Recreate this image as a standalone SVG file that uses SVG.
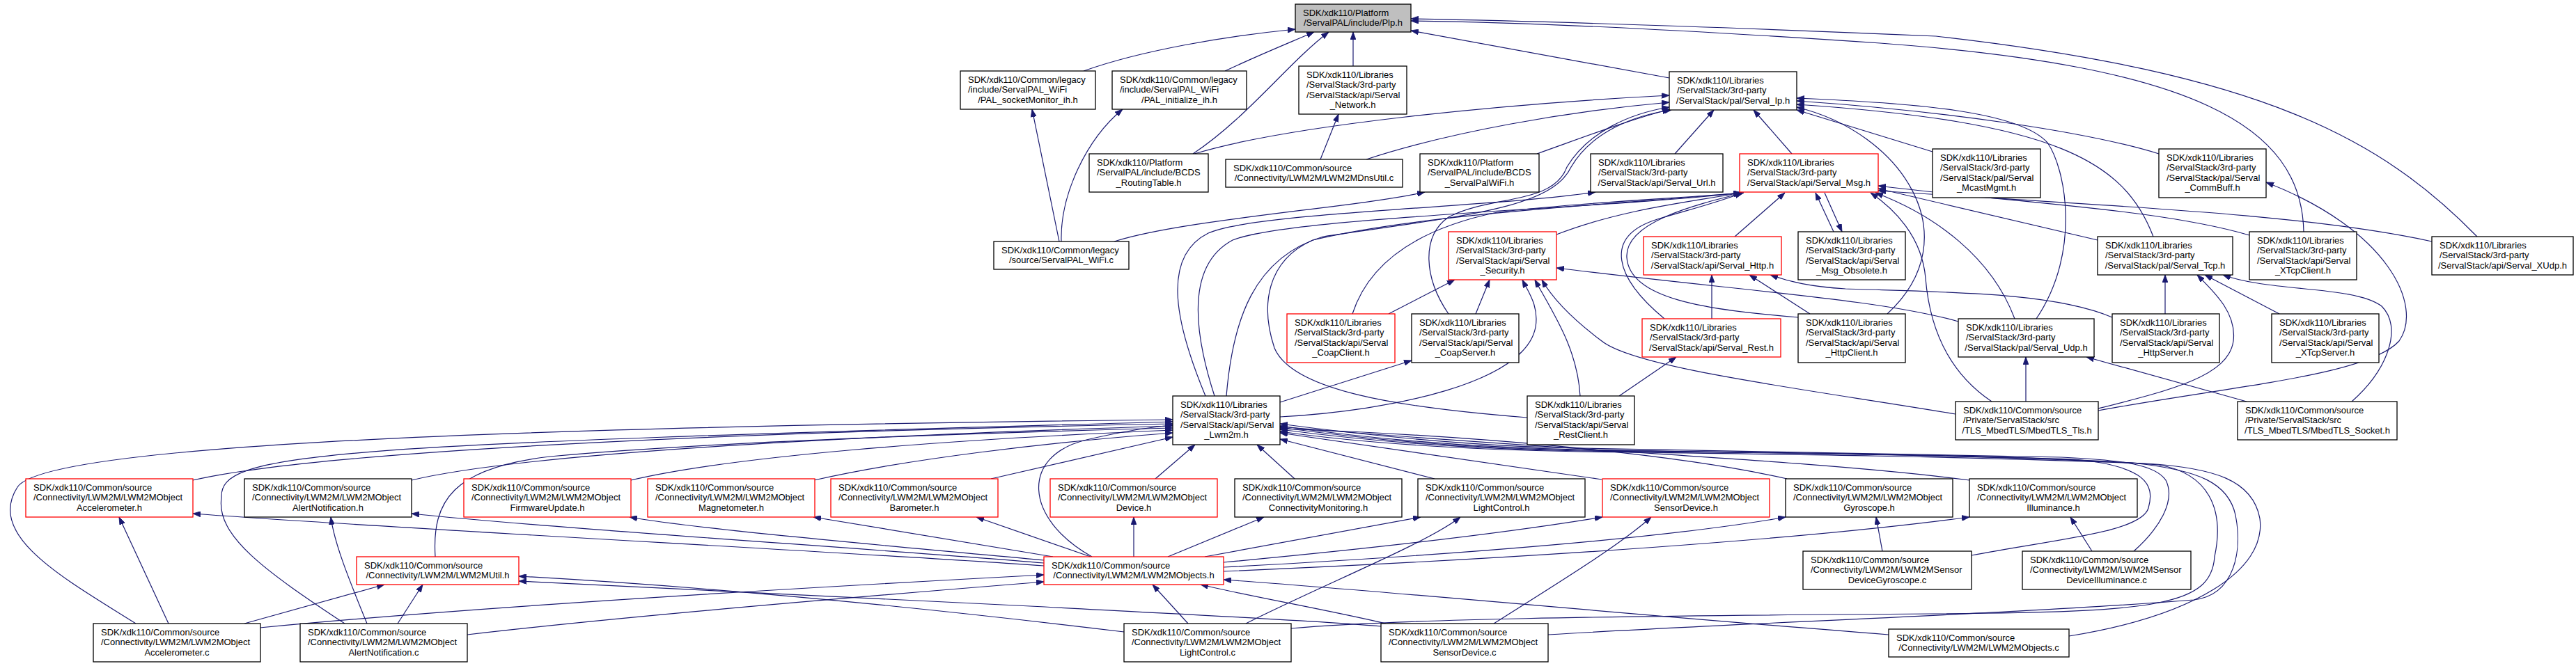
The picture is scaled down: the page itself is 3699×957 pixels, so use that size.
<svg xmlns="http://www.w3.org/2000/svg" width="3699" height="957" viewBox="0 0 3699 957">
<defs>
<style>
.n rect{fill:#fff;stroke:#000;stroke-width:1.3}
.n.r rect{stroke:#f00}
.n.g rect{fill:#bfbfbf}
.n text{font-family:"Liberation Sans",Arial,sans-serif;font-size:13px;fill:#000}
.n text.c{text-anchor:middle}
#edges path{fill:none;stroke:#191970;stroke-width:1.2;marker-end:url(#arr)}
</style>
<marker id="arr" viewBox="0 0 11 8" refX="11" refY="4" markerWidth="11" markerHeight="8" markerUnits="userSpaceOnUse" orient="auto"><path d="M0,0L11,4L0,8z" fill="#191970" stroke="#191970" stroke-width="0.8"/></marker>
</defs>
<rect width="3699" height="957" fill="#fff"/>
<g id="edges">
<path d="M1556,102 C1640,72 1760,52 1860,42"/>
<path d="M1759,102 C1810,78 1850,62 1887,46"/>
<path d="M1713,221 C1790,170 1850,90 1908,46"/>
<path d="M1943,95 L1943,46"/>
<path d="M2397,112 L2026,44"/>
<path d="M3308,333 C3305,180 3150,95 2700,62 C2450,45 2200,32 2026,30"/>
<path d="M3557,340 C3420,200 3250,105 2780,52 C2450,38 2200,30 2026,27"/>
<path d="M1715,221 C1850,180 2150,150 2397,137"/>
<path d="M1962,229 C2080,190 2250,160 2397,147"/>
<path d="M1896,229 L1922,164"/>
<path d="M2207,221 C2280,195 2340,172 2398,157"/>
<path d="M2405,221 L2461,158"/>
<path d="M2573,221 L2518,158"/>
<path d="M2775,218 L2580,158"/>
<path d="M3100,221 C3000,190 2800,160 2580,145"/>
<path d="M3092,340 C3050,230 2950,175 2580,150"/>
<path d="M2924,458 C2990,360 2965,240 2940,205 C2900,160 2750,148 2580,141"/>
<path d="M2710,451 C2830,340 2730,190 2580,154"/>
<path d="M2080,451 C2045,400 2040,340 2080,312 C2140,280 2230,295 2250,240 C2280,190 2340,163 2397,154"/>
<path d="M1761,569 C1770,460 1800,370 1900,340 C2100,310 2228,300 2256,240 C2285,190 2345,166 2400,158"/>
<path d="M2235,337 C2330,300 2430,290 2500,277"/>
<path d="M2491,340 L2563,277"/>
<path d="M2633,333 L2607,277"/>
<path d="M2620,277 L2645,333"/>
<path d="M2390,458 C2320,400 2300,340 2380,315 C2430,300 2470,290 2502,277"/>
<path d="M2582,456 C2450,445 2340,430 2336,370 C2333,320 2430,295 2504,277"/>
<path d="M1942,451 C1965,380 2030,330 2150,305 C2300,288 2420,285 2500,277"/>
<path d="M2193,600 C2000,585 1855,560 1830,500 C1810,440 1818,375 1885,345 C2050,305 2350,292 2500,277"/>
<path d="M2893,458 C2860,370 2780,310 2693,277"/>
<path d="M2860,577 C2790,530 2770,460 2765,400 C2760,340 2720,300 2686,277"/>
<path d="M3012,345 L2697,271"/>
<path d="M3230,338 C3100,300 2900,292 2697,267"/>
<path d="M3492,347 C3300,305 3000,295 2697,274"/>
<path d="M2458,458 L2458,395"/>
<path d="M2599,451 L2512,395"/>
<path d="M3033,456 C2950,420 2800,420 2650,415 C2600,412 2570,405 2542,395"/>
<path d="M1994,451 L2089,402"/>
<path d="M2119,451 L2139,402"/>
<path d="M1838,599 C2000,590 2190,550 2205,470 C2210,440 2195,420 2186,402"/>
<path d="M2269,569 C2265,500 2230,450 2204,402"/>
<path d="M2808,595 C2600,560 2350,530 2300,490 C2260,460 2230,430 2214,402"/>
<path d="M2812,462 C2700,430 2500,418 2235,385"/>
<path d="M3109,451 L3109,395"/>
<path d="M3273,451 L3166,395"/>
<path d="M3013,587 C3120,560 3200,540 3207,490 C3212,450 3180,420 3155,395"/>
<path d="M3377,577 C3430,530 3450,470 3420,440 C3380,410 3260,420 3192,395"/>
<path d="M2909,577 L2909,513"/>
<path d="M3226,577 L2996,513"/>
<path d="M3013,590 C3200,555 3400,540 3445,490 C3480,440 3430,330 3254,262"/>
<path d="M195,896 C90,830 -20,770 25,700 C60,645 600,615 1684,603"/>
<path d="M495,896 C380,820 310,770 318,715 C315,650 450,640 1684,606"/>
<path d="M277,690 C450,650 1000,622 1684,609"/>
<path d="M591,690 C750,652 1200,627 1684,612"/>
<path d="M625,800 C620,720 650,672 790,656 C1000,636 1400,622 1684,615"/>
<path d="M906,690 C1050,656 1350,632 1684,618"/>
<path d="M1169,690 C1300,660 1500,636 1684,622"/>
<path d="M1423,688 L1684,628"/>
<path d="M1659,688 L1716,639"/>
<path d="M1568,800 C1470,745 1465,655 1560,632 C1620,618 1660,613 1684,611"/>
<path d="M1859,688 L1805,639"/>
<path d="M2060,688 L1838,631"/>
<path d="M2300,689 L1838,622"/>
<path d="M2566,688 C2400,650 2100,625 1838,616"/>
<path d="M2828,690 C2600,660 2200,645 1838,613"/>
<path d="M2831,798 C2950,775 3075,765 3085,730 C3095,695 3080,670 2980,660 C2700,652 2450,650 2270,646 C2100,643 1950,628 1838,612"/>
<path d="M3064,792 C3100,760 3125,720 3110,690 C3095,668 3050,661 2960,657 C2700,650 2450,648 2270,644 C2100,641 1950,624 1838,609"/>
<path d="M1854,903 C2000,890 2300,885 2775,882 C3100,880 3175,870 3180,800 C3195,730 3170,680 3100,668 C2900,652 2500,650 2270,647 C2100,644 1950,630 1838,614"/>
<path d="M2223,912 C2500,895 2900,882 3150,862 C3210,855 3220,790 3210,740 C3200,695 3160,675 3060,665 C2800,652 2500,650 2270,648 C2100,645 1950,632 1838,617"/>
<path d="M2971,914 C3150,885 3255,820 3245,745 C3235,690 3180,672 3080,666 C2800,655 2500,652 2270,649 C2100,646 1950,636 1838,620"/>
<path d="M1499,813 C1200,792 600,762 277,738"/>
<path d="M1499,809 C1250,788 800,760 591,738"/>
<path d="M1499,805 C1250,782 1000,760 904,743"/>
<path d="M1512,800 L1168,743"/>
<path d="M1566,800 L1402,743"/>
<path d="M1628,800 L1628,743"/>
<path d="M1677,800 L1815,743"/>
<path d="M1730,800 L2040,743"/>
<path d="M1757,808 C1950,790 2150,768 2301,743"/>
<path d="M1757,815 C2100,797 2400,772 2564,743"/>
<path d="M1757,821 C2200,802 2600,774 2828,743"/>
<path d="M373,902 C700,870 1200,842 1499,826"/>
<path d="M671,912 C900,885 1300,852 1499,836"/>
<path d="M1706,896 L1655,840"/>
<path d="M1990,896 C1900,875 1800,858 1724,840"/>
<path d="M2712,912 C2300,880 2000,850 1757,833"/>
<path d="M351,896 L552,840"/>
<path d="M571,896 L607,840"/>
<path d="M1614,908 C1300,870 1000,842 745,828"/>
<path d="M1983,900 C1900,892 1700,883 1500,872 C1200,858 950,845 745,835"/>
<path d="M242,896 L171,743"/>
<path d="M527,896 C500,830 480,780 475,743"/>
<path d="M1789,896 C1900,840 2050,780 2097,743"/>
<path d="M2145,896 C2250,830 2330,780 2371,743"/>
<path d="M2703,792 L2694,743"/>
<path d="M3004,792 L2973,743"/>
<path d="M1521,347 L1482,157"/>
<path d="M1524,347 C1522,280 1560,200 1612,157"/>
<path d="M1600,347 C1700,315 1950,298 2046,276"/>
<path d="M1731,569 C1690,470 1665,370 1735,335 C1800,305 2150,298 2291,276"/>
<path d="M1744,569 C1712,470 1705,380 1770,345 C1850,312 2300,300 2500,277"/>
<path d="M1838,578 L2027,518"/>
<path d="M2325,569 L2407,513"/>
</g>
<g id="nodes">
<g id="plp" class="n g"><rect x="1860" y="6" width="166" height="40"/><text x="1871" y="22.5">SDK/xdk110/Platform</text><text class="c" x="1943" y="37">/ServalPAL/include/Plp.h</text></g>
<g id="sockmon" class="n"><rect x="1379" y="102" width="194" height="55"/><text x="1390" y="118.5">SDK/xdk110/Common/legacy</text><text x="1390" y="133">/include/ServalPAL_WiFi</text><text class="c" x="1476" y="147.5">/PAL_socketMonitor_ih.h</text></g>
<g id="init" class="n"><rect x="1597" y="102" width="193" height="55"/><text x="1608" y="118.5">SDK/xdk110/Common/legacy</text><text x="1608" y="133">/include/ServalPAL_WiFi</text><text class="c" x="1693.5" y="147.5">/PAL_initialize_ih.h</text></g>
<g id="network" class="n"><rect x="1865" y="95" width="155" height="69"/><text x="1876" y="111.5">SDK/xdk110/Libraries</text><text x="1876" y="126">/ServalStack/3rd-party</text><text x="1876" y="140.5">/ServalStack/api/Serval</text><text class="c" x="1942.5" y="155">_Network.h</text></g>
<g id="ip" class="n"><rect x="2397" y="103" width="183" height="55"/><text x="2408" y="119.5">SDK/xdk110/Libraries</text><text x="2408" y="134">/ServalStack/3rd-party</text><text class="c" x="2488.5" y="148.5">/ServalStack/pal/Serval_Ip.h</text></g>
<g id="routing" class="n"><rect x="1564" y="221" width="171" height="55"/><text x="1575" y="237.5">SDK/xdk110/Platform</text><text x="1575" y="252">/ServalPAL/include/BCDS</text><text class="c" x="1649.5" y="266.5">_RoutingTable.h</text></g>
<g id="dnsutil" class="n"><rect x="1760" y="229" width="254" height="40"/><text x="1771" y="245.5">SDK/xdk110/Common/source</text><text class="c" x="1887" y="260">/Connectivity/LWM2M/LWM2MDnsUtil.c</text></g>
<g id="palwifi_h" class="n"><rect x="2039" y="221" width="171" height="55"/><text x="2050" y="237.5">SDK/xdk110/Platform</text><text x="2050" y="252">/ServalPAL/include/BCDS</text><text class="c" x="2124.5" y="266.5">_ServalPalWiFi.h</text></g>
<g id="url" class="n"><rect x="2284" y="221" width="190" height="55"/><text x="2295" y="237.5">SDK/xdk110/Libraries</text><text x="2295" y="252">/ServalStack/3rd-party</text><text class="c" x="2379" y="266.5">/ServalStack/api/Serval_Url.h</text></g>
<g id="msg" class="n r"><rect x="2498" y="221" width="199" height="55"/><text x="2509" y="237.5">SDK/xdk110/Libraries</text><text x="2509" y="252">/ServalStack/3rd-party</text><text class="c" x="2597.5" y="266.5">/ServalStack/api/Serval_Msg.h</text></g>
<g id="mcast" class="n"><rect x="2775" y="214" width="155" height="70"/><text x="2786" y="230.5">SDK/xdk110/Libraries</text><text x="2786" y="245">/ServalStack/3rd-party</text><text x="2786" y="259.5">/ServalStack/pal/Serval</text><text class="c" x="2852.5" y="274">_McastMgmt.h</text></g>
<g id="commbuff" class="n"><rect x="3100" y="214" width="154" height="70"/><text x="3111" y="230.5">SDK/xdk110/Libraries</text><text x="3111" y="245">/ServalStack/3rd-party</text><text x="3111" y="259.5">/ServalStack/pal/Serval</text><text class="c" x="3177" y="274">_CommBuff.h</text></g>
<g id="palwifi_c" class="n"><rect x="1427" y="347" width="194" height="40"/><text x="1438" y="363.5">SDK/xdk110/Common/legacy</text><text class="c" x="1524" y="378">/source/ServalPAL_WiFi.c</text></g>
<g id="security" class="n r"><rect x="2080" y="333" width="155" height="69"/><text x="2091" y="349.5">SDK/xdk110/Libraries</text><text x="2091" y="364">/ServalStack/3rd-party</text><text x="2091" y="378.5">/ServalStack/api/Serval</text><text class="c" x="2157.5" y="393">_Security.h</text></g>
<g id="http" class="n r"><rect x="2360" y="340" width="198" height="55"/><text x="2371" y="356.5">SDK/xdk110/Libraries</text><text x="2371" y="371">/ServalStack/3rd-party</text><text class="c" x="2459" y="385.5">/ServalStack/api/Serval_Http.h</text></g>
<g id="obsolete" class="n"><rect x="2582" y="333" width="154" height="69"/><text x="2593" y="349.5">SDK/xdk110/Libraries</text><text x="2593" y="364">/ServalStack/3rd-party</text><text x="2593" y="378.5">/ServalStack/api/Serval</text><text class="c" x="2659" y="393">_Msg_Obsolete.h</text></g>
<g id="tcp" class="n"><rect x="3012" y="340" width="194" height="55"/><text x="3023" y="356.5">SDK/xdk110/Libraries</text><text x="3023" y="371">/ServalStack/3rd-party</text><text class="c" x="3109" y="385.5">/ServalStack/pal/Serval_Tcp.h</text></g>
<g id="xtcpclient" class="n"><rect x="3230" y="333" width="154" height="69"/><text x="3241" y="349.5">SDK/xdk110/Libraries</text><text x="3241" y="364">/ServalStack/3rd-party</text><text x="3241" y="378.5">/ServalStack/api/Serval</text><text class="c" x="3307" y="393">_XTcpClient.h</text></g>
<g id="xudp" class="n"><rect x="3492" y="340" width="203" height="55"/><text x="3503" y="356.5">SDK/xdk110/Libraries</text><text x="3503" y="371">/ServalStack/3rd-party</text><text class="c" x="3593.5" y="385.5">/ServalStack/api/Serval_XUdp.h</text></g>
<g id="coapclient" class="n r"><rect x="1848" y="451" width="155" height="70"/><text x="1859" y="467.5">SDK/xdk110/Libraries</text><text x="1859" y="482">/ServalStack/3rd-party</text><text x="1859" y="496.5">/ServalStack/api/Serval</text><text class="c" x="1925.5" y="511">_CoapClient.h</text></g>
<g id="coapserver" class="n"><rect x="2027" y="451" width="154" height="70"/><text x="2038" y="467.5">SDK/xdk110/Libraries</text><text x="2038" y="482">/ServalStack/3rd-party</text><text x="2038" y="496.5">/ServalStack/api/Serval</text><text class="c" x="2104" y="511">_CoapServer.h</text></g>
<g id="rest" class="n r"><rect x="2358" y="458" width="199" height="55"/><text x="2369" y="474.5">SDK/xdk110/Libraries</text><text x="2369" y="489">/ServalStack/3rd-party</text><text class="c" x="2457.5" y="503.5">/ServalStack/api/Serval_Rest.h</text></g>
<g id="httpclient" class="n"><rect x="2582" y="451" width="154" height="70"/><text x="2593" y="467.5">SDK/xdk110/Libraries</text><text x="2593" y="482">/ServalStack/3rd-party</text><text x="2593" y="496.5">/ServalStack/api/Serval</text><text class="c" x="2659" y="511">_HttpClient.h</text></g>
<g id="udp" class="n"><rect x="2812" y="458" width="195" height="55"/><text x="2823" y="474.5">SDK/xdk110/Libraries</text><text x="2823" y="489">/ServalStack/3rd-party</text><text class="c" x="2909.5" y="503.5">/ServalStack/pal/Serval_Udp.h</text></g>
<g id="httpserver" class="n"><rect x="3033" y="451" width="154" height="70"/><text x="3044" y="467.5">SDK/xdk110/Libraries</text><text x="3044" y="482">/ServalStack/3rd-party</text><text x="3044" y="496.5">/ServalStack/api/Serval</text><text class="c" x="3110" y="511">_HttpServer.h</text></g>
<g id="xtcpserver" class="n"><rect x="3262" y="451" width="154" height="70"/><text x="3273" y="467.5">SDK/xdk110/Libraries</text><text x="3273" y="482">/ServalStack/3rd-party</text><text x="3273" y="496.5">/ServalStack/api/Serval</text><text class="c" x="3339" y="511">_XTcpServer.h</text></g>
<g id="lwm2m" class="n"><rect x="1684" y="569" width="154" height="70"/><text x="1695" y="585.5">SDK/xdk110/Libraries</text><text x="1695" y="600">/ServalStack/3rd-party</text><text x="1695" y="614.5">/ServalStack/api/Serval</text><text class="c" x="1761" y="629">_Lwm2m.h</text></g>
<g id="restclient" class="n"><rect x="2193" y="569" width="154" height="70"/><text x="2204" y="585.5">SDK/xdk110/Libraries</text><text x="2204" y="600">/ServalStack/3rd-party</text><text x="2204" y="614.5">/ServalStack/api/Serval</text><text class="c" x="2270" y="629">_RestClient.h</text></g>
<g id="tls" class="n"><rect x="2808" y="577" width="205" height="55"/><text x="2819" y="593.5">SDK/xdk110/Common/source</text><text x="2819" y="608">/Private/ServalStack/src</text><text class="c" x="2910.5" y="622.5">/TLS_MbedTLS/MbedTLS_Tls.h</text></g>
<g id="socket" class="n"><rect x="3213" y="577" width="229" height="55"/><text x="3224" y="593.5">SDK/xdk110/Common/source</text><text x="3224" y="608">/Private/ServalStack/src</text><text class="c" x="3327.5" y="622.5">/TLS_MbedTLS/MbedTLS_Socket.h</text></g>
<g id="accel_h" class="n r"><rect x="37" y="688" width="240" height="55"/><text x="48" y="704.5">SDK/xdk110/Common/source</text><text x="48" y="719">/Connectivity/LWM2M/LWM2MObject</text><text class="c" x="157" y="733.5">Accelerometer.h</text></g>
<g id="alert_h" class="n"><rect x="351" y="688" width="240" height="55"/><text x="362" y="704.5">SDK/xdk110/Common/source</text><text x="362" y="719">/Connectivity/LWM2M/LWM2MObject</text><text class="c" x="471" y="733.5">AlertNotification.h</text></g>
<g id="fw_h" class="n r"><rect x="666" y="688" width="240" height="55"/><text x="677" y="704.5">SDK/xdk110/Common/source</text><text x="677" y="719">/Connectivity/LWM2M/LWM2MObject</text><text class="c" x="786" y="733.5">FirmwareUpdate.h</text></g>
<g id="mag_h" class="n r"><rect x="930" y="688" width="240" height="55"/><text x="941" y="704.5">SDK/xdk110/Common/source</text><text x="941" y="719">/Connectivity/LWM2M/LWM2MObject</text><text class="c" x="1050" y="733.5">Magnetometer.h</text></g>
<g id="baro_h" class="n r"><rect x="1193" y="688" width="240" height="55"/><text x="1204" y="704.5">SDK/xdk110/Common/source</text><text x="1204" y="719">/Connectivity/LWM2M/LWM2MObject</text><text class="c" x="1313" y="733.5">Barometer.h</text></g>
<g id="device_h" class="n r"><rect x="1508" y="688" width="240" height="55"/><text x="1519" y="704.5">SDK/xdk110/Common/source</text><text x="1519" y="719">/Connectivity/LWM2M/LWM2MObject</text><text class="c" x="1628" y="733.5">Device.h</text></g>
<g id="connmon_h" class="n"><rect x="1773" y="688" width="240" height="55"/><text x="1784" y="704.5">SDK/xdk110/Common/source</text><text x="1784" y="719">/Connectivity/LWM2M/LWM2MObject</text><text class="c" x="1893" y="733.5">ConnectivityMonitoring.h</text></g>
<g id="light_h" class="n"><rect x="2036" y="688" width="240" height="55"/><text x="2047" y="704.5">SDK/xdk110/Common/source</text><text x="2047" y="719">/Connectivity/LWM2M/LWM2MObject</text><text class="c" x="2156" y="733.5">LightControl.h</text></g>
<g id="sensor_h" class="n r"><rect x="2301" y="688" width="240" height="55"/><text x="2312" y="704.5">SDK/xdk110/Common/source</text><text x="2312" y="719">/Connectivity/LWM2M/LWM2MObject</text><text class="c" x="2421" y="733.5">SensorDevice.h</text></g>
<g id="gyro_h" class="n"><rect x="2564" y="688" width="240" height="55"/><text x="2575" y="704.5">SDK/xdk110/Common/source</text><text x="2575" y="719">/Connectivity/LWM2M/LWM2MObject</text><text class="c" x="2684" y="733.5">Gyroscope.h</text></g>
<g id="illum_h" class="n"><rect x="2828" y="688" width="241" height="55"/><text x="2839" y="704.5">SDK/xdk110/Common/source</text><text x="2839" y="719">/Connectivity/LWM2M/LWM2MObject</text><text class="c" x="2948.5" y="733.5">Illuminance.h</text></g>
<g id="util_h" class="n r"><rect x="512" y="800" width="233" height="40"/><text x="523" y="816.5">SDK/xdk110/Common/source</text><text class="c" x="628.5" y="831">/Connectivity/LWM2M/LWM2MUtil.h</text></g>
<g id="objects_h" class="n r"><rect x="1499" y="800" width="258" height="40"/><text x="1510" y="816.5">SDK/xdk110/Common/source</text><text class="c" x="1628" y="831">/Connectivity/LWM2M/LWM2MObjects.h</text></g>
<g id="devgyro_c" class="n"><rect x="2589" y="792" width="242" height="55"/><text x="2600" y="808.5">SDK/xdk110/Common/source</text><text x="2600" y="823">/Connectivity/LWM2M/LWM2MSensor</text><text class="c" x="2710" y="837.5">DeviceGyroscope.c</text></g>
<g id="devillum_c" class="n"><rect x="2904" y="792" width="242" height="55"/><text x="2915" y="808.5">SDK/xdk110/Common/source</text><text x="2915" y="823">/Connectivity/LWM2M/LWM2MSensor</text><text class="c" x="3025" y="837.5">DeviceIlluminance.c</text></g>
<g id="accel_c" class="n"><rect x="134" y="896" width="240" height="55"/><text x="145" y="912.5">SDK/xdk110/Common/source</text><text x="145" y="927">/Connectivity/LWM2M/LWM2MObject</text><text class="c" x="254" y="941.5">Accelerometer.c</text></g>
<g id="alert_c" class="n"><rect x="431" y="896" width="240" height="55"/><text x="442" y="912.5">SDK/xdk110/Common/source</text><text x="442" y="927">/Connectivity/LWM2M/LWM2MObject</text><text class="c" x="551" y="941.5">AlertNotification.c</text></g>
<g id="light_c" class="n"><rect x="1614" y="896" width="240" height="55"/><text x="1625" y="912.5">SDK/xdk110/Common/source</text><text x="1625" y="927">/Connectivity/LWM2M/LWM2MObject</text><text class="c" x="1734" y="941.5">LightControl.c</text></g>
<g id="sensor_c" class="n"><rect x="1983" y="896" width="240" height="55"/><text x="1994" y="912.5">SDK/xdk110/Common/source</text><text x="1994" y="927">/Connectivity/LWM2M/LWM2MObject</text><text class="c" x="2103" y="941.5">SensorDevice.c</text></g>
<g id="objects_c" class="n"><rect x="2712" y="904" width="259" height="40"/><text x="2723" y="920.5">SDK/xdk110/Common/source</text><text class="c" x="2841.5" y="935">/Connectivity/LWM2M/LWM2MObjects.c</text></g>
</g>
</svg>
